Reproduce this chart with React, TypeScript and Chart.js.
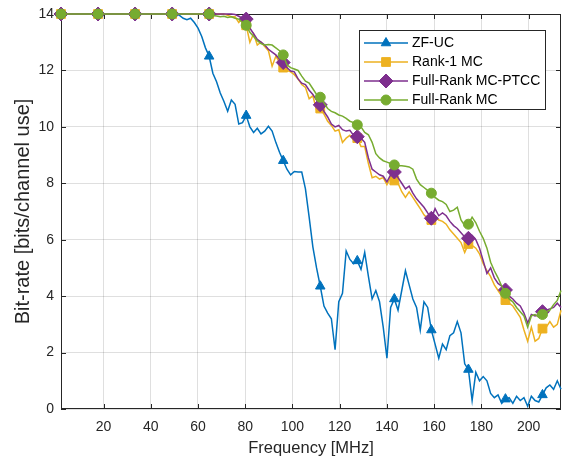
import React, { useEffect, useRef } from 'react';
import { Chart, registerables } from 'chart.js';

Chart.register(...registerables);

// ---------- data ----------
const FREQ_START = 2; // MHz, first frequency sample
const FREQ_STEP = 1.568; // MHz between samples

const X_TICKS = [20, 40, 60, 80, 100, 120, 140, 160, 180, 200];
const Y_TICKS = [0, 2, 4, 6, 8, 10, 12, 14];

const SERIES_NAMES = ['ZF-UC', 'Rank-1 MC', 'Full-Rank MC-PTCC', 'Full-Rank MC'];

const ZF_UC = [
  14, 14, 14, 14, 14, 14, 14, 14, 14, 14,
  14, 14, 14, 14, 14, 14, 14, 14, 14, 14,
  14, 14, 14, 14, 14, 14, 14, 14, 14, 14,
  14, 14, 13.95, 13.85, 13.8, 13.85, 13.7, 13.5, 13.2, 12.8,
  12.5, 11.9, 11.6, 11.2, 10.9, 10.55, 10.95, 10.8, 10.1, 10.15,
  10.4, 10.0, 9.8, 9.95, 9.75, 9.85, 10.02, 9.85, 9.45, 9.1,
  8.8, 8.5, 8.3, 8.42, 8.4, 8.4, 7.8, 6.8, 5.75, 5.0,
  4.35, 3.65, 3.4, 3.2, 2.1, 3.8, 4.1, 5.6, 5.3, 5.15,
  5.25, 4.95, 5.55, 4.7, 3.9, 4.2, 3.8, 2.9, 1.8, 3.6,
  3.9, 3.5, 4.2, 4.9, 4.4, 3.9, 3.6, 2.8, 3.8, 3.6,
  2.8, 2.3, 1.8, 2.3, 2.1, 2.6, 2.7, 3.1, 2.7, 1.6,
  1.4, 0.3, 1.3, 1.0, 1.15, 1.0, 0.55, 0.4, 0.5, 0.2,
  0.35, 0.4, 0.2, 0.45, 0.3, 0.4, 0.1, 0.45, 0.3, 0.25,
  0.5, 0.75, 0.85, 0.7, 1.0, 0.7,
];

const RANK1_MC = [
  14, 14, 14, 14, 14, 14, 14, 14, 14, 14,
  14, 14, 14, 14, 14, 14, 14, 14, 14, 14,
  14, 14, 14, 14, 14, 14, 14, 14, 14, 14,
  14, 14, 14, 14, 14, 14, 14, 14, 14, 14,
  14, 14, 14, 14, 14, 13.95, 13.9, 13.9, 13.7, 13.85,
  13.6, 13.0, 13.3, 12.9, 13.0, 12.85, 12.7, 12.15, 12.5, 12.3,
  12.1, 12.0, 11.95, 11.85, 11.7, 11.5, 11.4, 11.0, 11.1, 10.6,
  10.65, 10.45, 10.2, 10.05, 9.85, 9.9, 9.45, 9.6, 9.7, 9.55,
  9.6, 9.3, 9.3, 8.7, 8.2, 8.25, 8.15, 8.2, 7.95, 8.2,
  8.1, 8.0, 7.7, 7.5, 7.7, 7.5, 7.3, 7.1, 6.88, 6.75,
  6.7, 6.8, 6.7, 6.65, 6.55, 6.35, 6.2, 6.05, 5.9, 5.55,
  5.85, 5.8, 5.7, 5.5, 5.15, 4.9, 4.69, 4.4, 4.2, 4.0,
  3.86, 3.75, 3.65, 3.45, 3.25, 2.8, 2.4, 2.9, 2.4, 2.5,
  2.85, 2.9, 3.1, 2.9, 3.0, 3.5,
];

const FULLRANK_MC_PTCC = [
  14, 14, 14, 14, 14, 14, 14, 14, 14, 14,
  14, 14, 14, 14, 14, 14, 14, 14, 14, 14,
  14, 14, 14, 14, 14, 14, 14, 14, 14, 14,
  14, 14, 14, 14, 14, 14, 14, 14, 14, 14,
  14, 14, 14, 14, 14, 14, 14, 13.98, 13.92, 13.85,
  13.82, 13.5, 13.3, 13.1, 13.0, 12.9, 12.75, 12.65, 12.55, 12.4,
  12.28, 12.1, 11.98, 11.95, 11.7, 11.55, 11.5, 11.3, 11.15, 10.95,
  10.78, 10.55, 10.35, 10.1, 10.0, 10.05, 9.9, 9.85, 9.88, 9.7,
  9.65, 9.6, 9.45, 8.9, 8.5, 8.4, 8.3, 8.25, 8.05, 8.3,
  8.4, 8.2, 8.0, 7.8, 7.9, 7.65, 7.45, 7.3, 7.15, 6.95,
  6.76, 7.1, 6.85, 6.95, 6.85, 6.65, 6.5, 6.4, 6.25, 6.1,
  6.05, 6.15, 6.0, 5.7, 5.25, 4.8, 5.0, 4.65, 4.45, 4.35,
  4.22, 4.0, 3.9, 3.75, 3.65, 3.4, 3.05, 3.35, 3.3, 3.35,
  3.45, 3.5, 3.55, 3.6, 3.75, 3.6,
];

const FULLRANK_MC = [
  14, 14, 14, 14, 14, 14, 14, 14, 14, 14,
  14, 14, 14, 14, 14, 14, 14, 14, 14, 14,
  14, 14, 14, 14, 14, 14, 14, 14, 14, 14,
  14, 14, 14, 14, 14, 14, 14, 14, 14, 14,
  14, 13.95, 13.93, 13.9, 13.92, 13.88, 13.9, 13.85, 13.82, 13.7,
  13.6, 13.35, 13.2, 13.05, 12.95, 12.9, 12.92, 12.9, 12.8, 12.7,
  12.55, 12.2, 12.1, 12.05, 12.0, 11.8, 11.62, 11.55, 11.35, 11.15,
  11.05, 10.85, 10.65, 10.55, 10.5, 10.42, 10.38, 10.3, 10.2, 10.15,
  10.07, 10.0, 9.8, 9.72, 9.45, 9.05, 8.9, 8.8, 8.75, 8.7,
  8.65, 8.62, 8.62, 8.6, 8.58, 8.5, 8.15, 7.95, 7.85, 7.75,
  7.65, 7.5, 7.4, 7.35, 7.25, 7.0, 7.05, 7.15, 6.7, 6.5,
  6.55, 6.8, 6.6, 6.3, 6.05, 5.7, 5.2, 4.9, 4.65, 4.35,
  4.1, 3.9, 3.8, 3.6, 3.45, 3.3, 2.9, 3.3, 3.35, 3.25,
  3.35, 3.45, 3.5, 3.7, 3.85, 4.2,
];

// ---------- styles ----------
const FONT = '"Liberation Sans", Arial, Helvetica, sans-serif';
const AXIS_COLOR = '#262626';
const GRID_COLOR = 'rgba(38,38,38,0.15)';
const COLORS = ['#0072BD', '#EDB120', '#7E2F8E', '#77AC30'];
const MARKERS = ['triangle', 'rect', 'rectRot', 'circle'];
const MARKER_R = [5.5, 6.2, 7, 5];
const MARKER_EVERY = 10;

function drawMarker(ctx: CanvasRenderingContext2D, style: string, x: number, y: number, r: number) {
  ctx.beginPath();
  if (style === 'triangle') {
    ctx.moveTo(x, y - r);
    ctx.lineTo(x + 0.866 * r, y + 0.5 * r);
    ctx.lineTo(x - 0.866 * r, y + 0.5 * r);
    ctx.closePath();
  } else if (style === 'rect') {
    const s = Math.SQRT1_2 * r;
    ctx.rect(x - s, y - s, 2 * s, 2 * s);
  } else if (style === 'rectRot') {
    ctx.moveTo(x - r, y);
    ctx.lineTo(x, y - r);
    ctx.lineTo(x + r, y);
    ctx.lineTo(x, y + r);
    ctx.closePath();
  } else {
    ctx.arc(x, y, r, 0, Math.PI * 2);
  }
  ctx.fill();
  ctx.stroke();
}

const framePlugin = {
  id: 'frame',
  beforeDatasetsDraw(chart: any) {
    const { ctx, chartArea: a, scales } = chart;
    ctx.save();
    ctx.strokeStyle = AXIS_COLOR;
    ctx.lineWidth = 1;
    ctx.strokeRect(Math.round(a.left) + 0.5, Math.round(a.top) + 0.5, Math.round(a.right - a.left) - 1, Math.round(a.bottom - a.top) - 1);
    const tl = 5;
    ctx.beginPath();
    for (const v of X_TICKS) {
      const px = Math.round(scales.x.getPixelForValue(v)) + 0.5;
      ctx.moveTo(px, a.bottom);
      ctx.lineTo(px, a.bottom - tl);
      ctx.moveTo(px, a.top);
      ctx.lineTo(px, a.top + tl);
    }
    for (const v of Y_TICKS) {
      const py = Math.round(scales.y.getPixelForValue(v)) + 0.5;
      ctx.moveTo(a.left, py);
      ctx.lineTo(a.left + tl, py);
      ctx.moveTo(a.right, py);
      ctx.lineTo(a.right - tl, py);
    }
    ctx.stroke();
    ctx.restore();
  },
};

const legendPlugin = {
  id: 'matlabLegend',
  afterDraw(chart: any) {
    const { ctx } = chart;
    const bx = 359.5, by = 30.5, bw = 186, bh = 79;
    ctx.save();
    ctx.fillStyle = '#ffffff';
    ctx.fillRect(bx, by, bw, bh);
    ctx.strokeStyle = AXIS_COLOR;
    ctx.lineWidth = 1;
    ctx.strokeRect(bx, by, bw, bh);
    ctx.font = `14px ${FONT}`;
    ctx.textBaseline = 'middle';
    ctx.textAlign = 'left';
    SERIES_NAMES.forEach((name, i) => {
      const y = 43 + i * 19;
      ctx.strokeStyle = COLORS[i];
      ctx.fillStyle = COLORS[i];
      ctx.lineWidth = 1.5;
      ctx.beginPath();
      ctx.moveTo(364, y);
      ctx.lineTo(408, y);
      ctx.stroke();
      ctx.lineWidth = 1;
      drawMarker(ctx, MARKERS[i], 386, y, MARKER_R[i]);
      ctx.fillStyle = '#000000';
      ctx.fillText(name, 412, y + 0.5);
    });
    ctx.restore();
  },
};

export default function App() {
  const ref = useRef<HTMLCanvasElement>(null);

  useEffect(() => {
    if (!ref.current) return;
    const freq = ZF_UC.map((_, i) => +(FREQ_START + i * FREQ_STEP).toFixed(3));
    const all = [ZF_UC, RANK1_MC, FULLRANK_MC_PTCC, FULLRANK_MC];
    const datasets = all.map((vals, k) => ({
      label: SERIES_NAMES[k],
      data: vals.map((v, i) => ({ x: freq[i], y: v })),
      borderColor: COLORS[k],
      backgroundColor: COLORS[k],
      borderWidth: 1.5,
      pointStyle: MARKERS[k],
      pointRadius: (c: any) => (c.dataIndex % MARKER_EVERY === 0 ? MARKER_R[k] : 0),
      pointHoverRadius: 0,
      pointBorderWidth: 1,
      pointBorderColor: COLORS[k],
      pointBackgroundColor: COLORS[k],
      tension: 0,
      fill: false,
      clip: false as any,
      order: 4 - k,
    }));

    const chart = new Chart(ref.current, {
      type: 'line',
      data: { datasets },
      plugins: [framePlugin, legendPlugin],
      options: {
        responsive: false,
        animation: false,
        devicePixelRatio: 1,
        layout: { autoPadding: false, padding: { top: 14, right: 3, left: 0, bottom: 0 } },
        plugins: { legend: { display: false }, tooltip: { enabled: false } },
        events: [],
        scales: {
          x: {
            type: 'linear',
            min: FREQ_START,
            max: freq[freq.length - 1],
            afterBuildTicks: (s: any) => {
              s.ticks = X_TICKS.map((v) => ({ value: v }));
            },
            afterFit: (s: any) => {
              s.height = 49;
              s.paddingLeft = 0;
              s.paddingRight = 0;
            },
            grid: { color: GRID_COLOR, drawTicks: false, lineWidth: 1 },
            border: { display: false },
            ticks: {
              padding: 10,
              autoSkip: false,
              maxRotation: 0,
              color: AXIS_COLOR,
              font: { family: FONT, size: 14 },
            },
            title: {
              display: true,
              text: 'Frequency [MHz]',
              color: AXIS_COLOR,
              font: { family: FONT, size: 16.5 },
              padding: { top: 0, bottom: 0 },
            },
          },
          y: {
            type: 'linear',
            min: 0,
            max: 14,
            afterBuildTicks: (s: any) => {
              s.ticks = Y_TICKS.map((v) => ({ value: v }));
            },
            afterFit: (s: any) => {
              s.width = 61;
              s.paddingTop = 0;
              s.paddingBottom = 0;
            },
            grid: { color: GRID_COLOR, drawTicks: false, lineWidth: 1 },
            border: { display: false },
            ticks: {
              padding: 7,
              color: AXIS_COLOR,
              font: { family: FONT, size: 14 },
            },
            title: {
              display: true,
              text: 'Bit-rate [bits/channel use]',
              color: AXIS_COLOR,
              font: { family: FONT, size: 20 },
              padding: { top: 11, bottom: 0 },
            },
          },
        },
      },
    });
    return () => chart.destroy();
  }, []);

  return (
    <div style={{ position: 'fixed', left: 0, top: 0, width: 564, height: 458, background: '#ffffff' }}>
      <canvas ref={ref} width={564} height={458} style={{ display: 'block', width: 564, height: 458 }} />
    </div>
  );
}
